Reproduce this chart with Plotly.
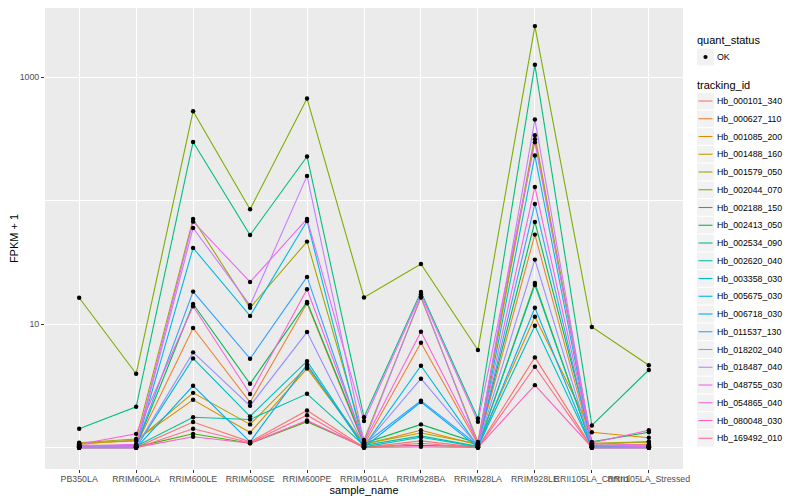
import plotly.graph_objects as go
import numpy as np

# ---------------- data ----------------
samples = ["PB350LA", "RRIM600LA", "RRIM600LE", "RRIM600SE", "RRIM600PE",
           "RRIM901LA", "RRIM928BA", "RRIM928LA", "RRIM928LE",
           "RRII105LA_Control", "RRII105LA_Stressed"]

tracking_ids = ["Hb_000101_340", "Hb_000627_110", "Hb_001085_200", "Hb_001488_160",
                "Hb_001579_050", "Hb_002044_070", "Hb_002188_150", "Hb_002413_050",
                "Hb_002534_090", "Hb_002620_040", "Hb_003358_030", "Hb_005675_030",
                "Hb_006718_030", "Hb_011537_130", "Hb_018202_040", "Hb_018487_040",
                "Hb_048755_030", "Hb_054865_040", "Hb_080048_030", "Hb_169492_010"]

colors = ["#F8766D", "#EA8331", "#D89000", "#C09B00", "#A3A500", "#7CAE00",
          "#39B600", "#00BB4E", "#00BF7D", "#00C1A3", "#00BFC4", "#00BAE0",
          "#00B0F6", "#35A2FF", "#9590FF", "#C77CFF", "#E76BF3", "#FA62DB",
          "#FF62BC", "#FF6C91"]

# FPKM + 1, one list per tracking_id, in sample order
hb_000101_340 = [1.01, 1.01, 1.62, 1.12, 2.01, 1.01, 1.14, 1.01, 5.40, 1.01, 1.01]
hb_000627_110 = [1.05, 1.05, 9.33, 2.34, 14.8, 1.06, 7.10, 1.07, 53.2, 1.05, 1.07]
hb_001085_200 = [1.07, 1.16, 2.45, 1.33, 4.39, 1.07, 1.39, 1.06, 11.5, 1.34, 1.21]
hb_001488_160 = [1.09, 1.14, 2.79, 1.55, 4.54, 1.08, 1.32, 1.08, 314.8, 1.07, 1.12]
hb_001579_050 = [1.10, 1.18, 71.2, 13.6, 46.7, 1.16, 16.5, 1.12, 339.0, 1.09, 1.12]
hb_002044_070 = [16.4, 3.98, 530.0, 85.3, 671.0, 16.5, 30.8, 6.19, 2588.0, 9.51, 4.66]
hb_002188_150 = [1.02, 1.02, 1.30, 1.09, 1.63, 1.02, 1.05, 1.02, 21.6, 1.02, 1.03]
hb_002413_050 = [1.04, 1.03, 14.6, 3.30, 15.2, 1.09, 1.55, 1.09, 67.3, 1.12, 1.34]
hb_002534_090 = [1.43, 2.15, 299.0, 52.8, 228.0, 1.77, 18.3, 1.73, 1258.0, 1.52, 4.27]
hb_002620_040 = [1.03, 1.03, 1.77, 1.70, 2.74, 1.05, 1.25, 1.03, 20.8, 1.03, 1.02]
hb_003358_030 = [1.01, 1.01, 5.30, 1.80, 5.04, 1.02, 1.22, 1.02, 9.74, 1.01, 1.01]
hb_005675_030 = [1.02, 1.02, 41.5, 11.7, 68.6, 1.03, 4.62, 1.03, 232.0, 1.03, 1.03]
hb_006718_030 = [1.00, 1.00, 3.18, 1.12, 4.74, 1.01, 2.35, 1.01, 13.6, 1.00, 1.00]
hb_011537_130 = [1.03, 1.04, 18.4, 5.27, 24.2, 1.07, 2.41, 1.05, 94.2, 1.05, 1.03]
hb_018202_040 = [1.02, 1.02, 5.93, 2.19, 8.66, 1.04, 3.63, 1.04, 33.4, 1.02, 1.01]
hb_018487_040 = [1.05, 1.03, 60.2, 14.25, 158.8, 1.11, 16.9, 1.07, 453.5, 1.06, 1.02]
hb_048755_030 = [1.03, 1.07, 67.7, 22.0, 71.2, 1.65, 17.5, 1.63, 297.6, 1.09, 1.05]
hb_054865_040 = [1.07, 1.30, 14.0, 2.73, 19.2, 1.11, 8.71, 1.10, 129.3, 1.10, 1.39]
hb_080048_030 = [1.01, 1.01, 1.23, 1.09, 1.67, 1.01, 1.02, 1.01, 3.22, 1.01, 1.01]
hb_169492_010 = [1.00, 1.00, 1.43, 1.10, 1.84, 1.00, 1.09, 1.00, 4.54, 1.00, 1.00]

series = [hb_000101_340, hb_000627_110, hb_001085_200, hb_001488_160, hb_001579_050,
          hb_002044_070, hb_002188_150, hb_002413_050, hb_002534_090, hb_002620_040,
          hb_003358_030, hb_005675_030, hb_006718_030, hb_011537_130, hb_018202_040,
          hb_018487_040, hb_048755_030, hb_054865_040, hb_080048_030, hb_169492_010]

quant_status = "OK"
y_major_ticks = [10, 1000]
y_minor_ticks = [1, 100]

# ---------------- geometry ----------------
FONT = "Liberation Sans, Arial, Helvetica, sans-serif"
PAGE = 8                      # default body margin of the html page
W, H = 800 - PAGE, 500 - PAGE  # figure size so it fits the 800x500 window
# panel edges as seen in the window
VL, VR, VT, VB = 45, 683, PAGE, 469
REF_TOP = 5                   # panel top of the reference

fig = go.Figure()

for tid, col, vals in zip(tracking_ids, colors, series):
    fig.add_trace(go.Scatter(x=samples, y=vals, mode="lines", name=tid,
                             line=dict(color=col, width=1.1), showlegend=False,
                             hoverinfo="x+y+name"))

all_x = [s for _ in series for s in samples]
all_y = [v for vals in series for v in vals]
fig.add_trace(go.Scatter(x=all_x, y=all_y, mode="markers", name=quant_status,
                         marker=dict(color="black", size=4.4), showlegend=False))

lo = np.log10(min(all_y))
hi = np.log10(max(all_y))
pad = (hi - lo) * 0.05
px_per_dec = (VB - REF_TOP) / ((hi - lo) + 2 * pad)
y0 = lo - pad
y1 = y0 + (VB - VT) / px_per_dec

fig.update_layout(
    width=W, height=H,
    margin=dict(l=VL - PAGE, r=W - (VR - PAGE), t=VT - PAGE, b=H - (VB - PAGE), autoexpand=False),
    paper_bgcolor="white", plot_bgcolor="#EBEBEB",
    font=dict(family=FONT, color="black"),
    showlegend=False,
)

fig.update_xaxes(
    type="category", categoryorder="array", categoryarray=samples,
    range=[-0.6, len(samples) - 0.4],
    showgrid=True, gridcolor="white", gridwidth=1.1,
    zeroline=False, showline=False,
    ticks="outside", ticklen=3, tickwidth=1, tickcolor="#333333",
    ticklabelstandoff=-2,
    tickangle=0, tickfont=dict(size=8.8, color="#4D4D4D", family=FONT),
    title=dict(text="sample_name", font=dict(size=11, color="black", family=FONT), standoff=3),
    automargin=False,
)

fig.update_yaxes(
    type="log", range=[y0, y1],
    tickvals=y_major_ticks, ticktext=[str(v) for v in y_major_ticks],
    showgrid=True, gridcolor="white", gridwidth=1.1,
    minor=dict(tickvals=y_minor_ticks, showgrid=True, gridcolor="white", gridwidth=0.55, ticks=""),
    zeroline=False, showline=False,
    ticks="outside", ticklen=3, tickwidth=1, tickcolor="#333333",
    tickfont=dict(size=8.8, color="#4D4D4D", family=FONT),
    title=dict(text="FPKM + 1", font=dict(size=11, color="black", family=FONT), standoff=6),
    automargin=False,
)

# ---------------- manual ggplot-style legend (window pixel coords) ----------------
def px(xv):
    return (xv - VL) / (VR - VL)

def py(yv):
    return (VB - yv) / (VB - VT)

shapes = []
annotations = []

def add_text(text, x, y, size):
    annotations.append(dict(text=text, x=px(x), y=py(y), xref="paper", yref="paper",
                            xanchor="left", yanchor="middle", showarrow=False,
                            font=dict(size=size, color="black", family=FONT)))

key_x0, key_x1 = 697, 714
add_text("quant_status", 695, 40, 11)
ok_y = 57
shapes.append(dict(type="rect", xref="paper", yref="paper",
                   x0=px(key_x0), x1=px(key_x1), y0=py(ok_y - 8.5), y1=py(ok_y + 8.5),
                   fillcolor="#F2F2F2", line=dict(width=0), layer="above"))
shapes.append(dict(type="circle", xref="paper", yref="paper",
                   x0=px(705.5 - 2.1), x1=px(705.5 + 2.1), y0=py(ok_y - 2.1), y1=py(ok_y + 2.1),
                   fillcolor="black", line=dict(width=0), layer="above"))
add_text(quant_status, 715, ok_y, 8.8)

add_text("tracking_id", 695, 84.5, 11)
for i, (tid, col) in enumerate(zip(tracking_ids, colors)):
    cy = 101 + i * 17.75
    shapes.append(dict(type="rect", xref="paper", yref="paper",
                       x0=px(key_x0), x1=px(key_x1), y0=py(cy - 8.3), y1=py(cy + 8.3),
                       fillcolor="#F2F2F2", line=dict(width=0), layer="above"))
    shapes.append(dict(type="line", xref="paper", yref="paper",
                       x0=px(698.5), x1=px(712.5), y0=py(cy), y1=py(cy),
                       line=dict(color=col, width=1.1), layer="above"))
    add_text(tid, 715, cy, 8.8)

fig.update_layout(shapes=shapes, annotations=annotations)

fig.write_html("out.html")
